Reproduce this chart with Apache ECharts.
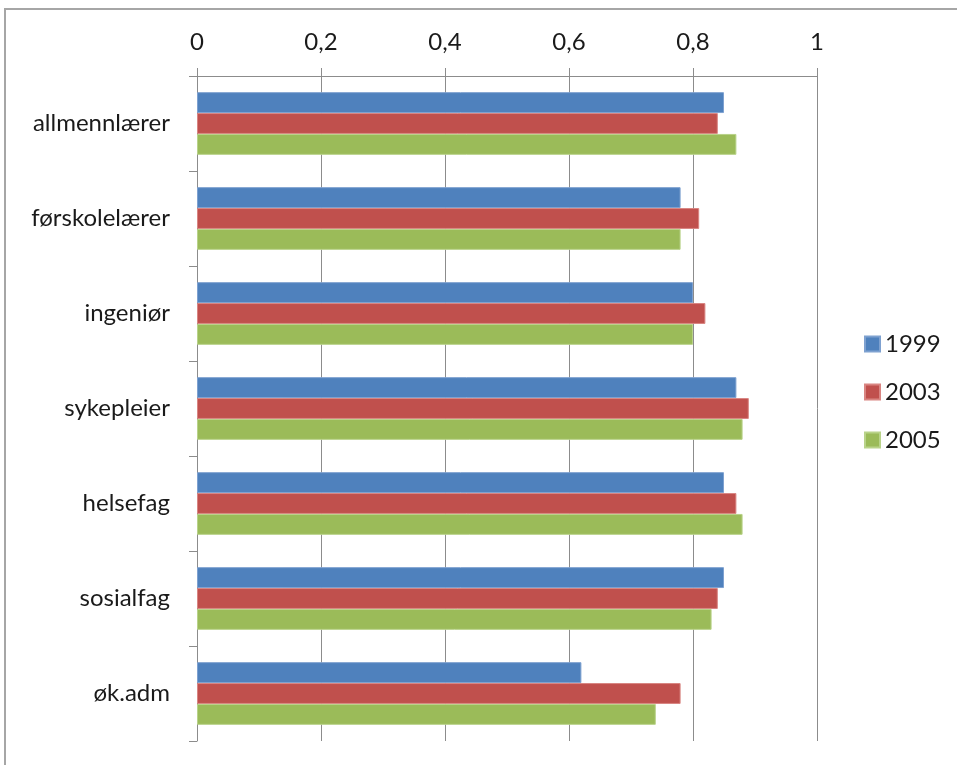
<!DOCTYPE html>
<html>
<head>
<meta charset="utf-8">
<script src="https://cdn.jsdelivr.net/npm/echarts@6/dist/echarts.min.js"></script>
<style>
html,body{margin:0;padding:0;background:#fff;}
#frame{position:absolute;left:4px;top:8px;width:960px;height:770px;border:2px solid #a6a6a6;box-sizing:border-box;}
#chart{position:absolute;left:0;top:0;width:957px;height:765px;}
</style>
</head>
<body>
<div id="frame"></div>
<div id="chart"></div>
<script>
const categories = ['allmennlærer','førskolelærer','ingeniør','sykepleier','helsefag','sosialfag','øk.adm'];
const seriesNames = ['1999','2003','2005'];
const values1999 = [0.85,0.78,0.80,0.87,0.85,0.85,0.62];
const values2003 = [0.84,0.81,0.82,0.89,0.87,0.84,0.78];
const values2005 = [0.87,0.78,0.80,0.88,0.88,0.83,0.74];
const colors = ['#4F81BD','#C0504D','#9BBB59'];
const borders = ['#7ea1d0','#d98582','#b9d38a'];
const allValues = [values1999, values2003, values2005];

const chart = echarts.init(document.getElementById('chart'));
const font = 'Lato, "Open Sans", sans-serif';
chart.setOption({
  animation:false,
  backgroundColor:'transparent',
  grid:{left:197,right:140,top:76,bottom:24,containLabel:false},
  legend:{
    orient:'vertical', left:859, top:327, itemWidth:15, itemHeight:15, itemGap:24,
    icon:'rect',
    textStyle:{fontFamily:font,fontSize:24,color:'#1a1a1a',padding:[0,0,0,0]},
    data:seriesNames
  },
  xAxis:{
    type:'value', position:'top', min:0, max:1, interval:0.2,
    axisLine:{show:true,lineStyle:{color:'#8c8c8c',width:1}},
    axisTick:{show:true,length:8,lineStyle:{color:'#8c8c8c'}},
    splitLine:{show:true,lineStyle:{color:'#8c8c8c',width:1}},
    axisLabel:{margin:22,fontFamily:font,fontSize:24,color:'#1a1a1a',
      formatter:v=>String(Math.round(v*10)/10).replace('.',',')}
  },
  yAxis:{
    type:'category', inverse:true, data:categories,
    axisLine:{show:true,lineStyle:{color:'#8c8c8c',width:1}},
    axisTick:{show:true,length:8,lineStyle:{color:'#8c8c8c'}},
    axisLabel:{margin:27,fontFamily:font,fontSize:24,color:'#1a1a1a'}
  },
  series: seriesNames.map((n,i)=>({
    name:n, type:'bar', data:allValues[i], barGap:'0%', barCategoryGap:'34%',
    itemStyle:{color:colors[i],borderColor:borders[i],borderWidth:1}
  }))
});
</script>
</body>
</html>
